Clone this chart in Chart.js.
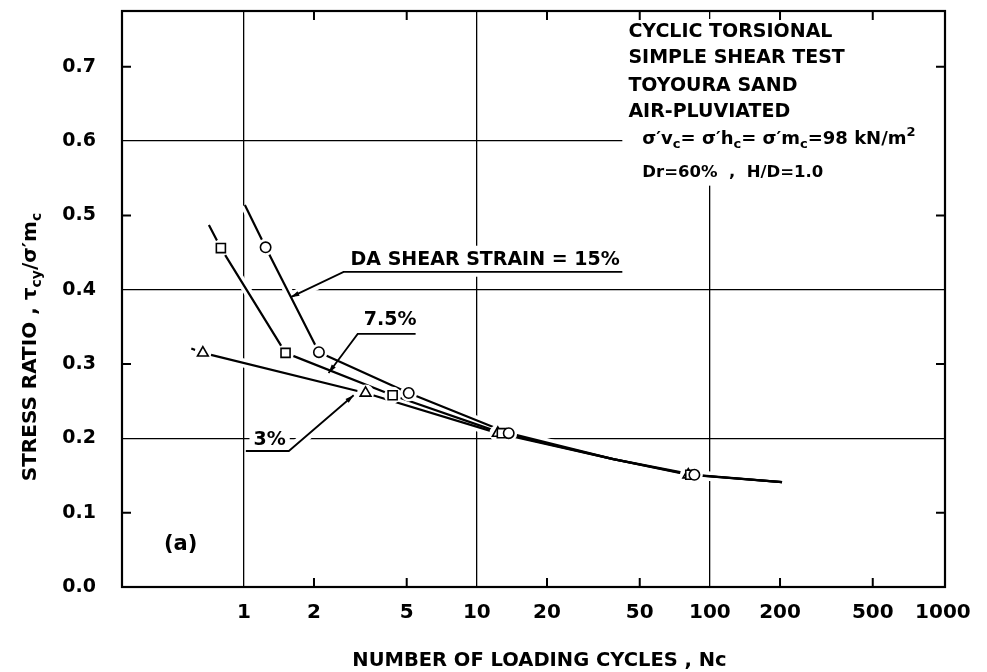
<!DOCTYPE html>
<html><head><meta charset="utf-8">
<script src="https://cdn.jsdelivr.net/npm/chart.js@4.4.1/dist/chart.umd.min.js"></script>
<style>html,body{margin:0;padding:0;background:#fff}canvas{display:block}</style>
</head><body>
<canvas id="c" width="987" height="672"></canvas>
<script>
// ---------- values ----------
const xTicks = [1, 2, 5, 10, 20, 50, 100, 200, 500, 1000];
const yTicks = [0, 0.1, 0.2, 0.3, 0.4, 0.5, 0.6, 0.7];
const xGridValues = [1, 10, 100];
const yGridValues = [0.2, 0.4, 0.6];
const xMinorTicks = [2, 5, 20, 50, 200, 500];
const yMinorTicks = [0.1, 0.3, 0.5, 0.7];

// measured points (Nc, stress ratio)
const nc15 = [1.24, 2.10, 5.10, 13.7, 85.8];
const sr15 = [0.457, 0.316, 0.261, 0.207, 0.151];
const nc75 = [0.797, 1.51, 4.35, 12.8, 82.4];
const sr75 = [0.456, 0.315, 0.258, 0.207, 0.151];
const nc3  = [0.667, 3.33, 12.3, 80.8];
const sr3  = [0.315, 0.261, 0.207, 0.151];

// drawn curves (traced)
const curve15X = [1.01, 1.24, 2.10, 5.10, 13.7, 38.5, 85.8, 204];
const curve15Y = [0.514, 0.457, 0.316, 0.261, 0.207, 0.172, 0.151, 0.141];
const curve75X = [0.708, 0.797, 1.51, 4.35, 12.8, 38.5, 82.4, 204];
const curve75Y = [0.487, 0.456, 0.315, 0.258, 0.207, 0.172, 0.151, 0.141];
const curve3X  = [0.595, 0.667, 3.33, 12.3, 38.5, 80.8, 204];
const curve3Y  = [0.321, 0.315, 0.261, 0.207, 0.172, 0.151, 0.141];

// annotation texts
const infoLines = ['CYCLIC TORSIONAL', 'SIMPLE SHEAR TEST', 'TOYOURA SAND', 'AIR-PLUVIATED'];
const curveLabels = ['DA SHEAR STRAIN = 15%', '7.5%', '3%', '(a)'];

// ---------- layout of annotations (data coordinates) ----------
const infoAnchor = {x: 44.7, ys: [0.747, 0.712, 0.674, 0.639]};
const formulaAnchor = {x: 51.3, ys: [0.602, 0.557]};
const infoMask = {x: 42.1, y: 0.540};
const labelAnchors = [[2.87, 0.440], [3.27, 0.359], [1.10, 0.198], [0.454, 0.0565]];
const leaders = [
  [[42.1, 0.424], [2.68, 0.424], [1.59, 0.390]],
  [[5.46, 0.3405], [3.08, 0.3405], [2.31, 0.288]],
  [[1.02, 0.183], [1.56, 0.183], [2.96, 0.258]]
];

const FONT = '"DejaVu Sans", "Liberation Sans", sans-serif';
const bold = s => `bold ${s}px ${FONT}`;

const formulaSegs = [
  {t: 'σ′v'}, {t: 'c', k: 'sub'}, {t: '= σ′h'}, {t: 'c', k: 'sub'},
  {t: '= σ′m'}, {t: 'c', k: 'sub'}, {t: '=98 kN/m'}, {t: '2', k: 'sup'}
];
const formula2Segs = [{t: 'Dr=60%  ,  H/D=1.0'}];
const yTitleSegs = [{t: 'STRESS RATIO , τ'}, {t: 'cy', k: 'sub'}, {t: '/σ′m'}, {t: 'c', k: 'sub'}];
const xTitle = 'NUMBER OF LOADING CYCLES , Nc';

function segFont(s, size) { return bold(s.k ? Math.round(size * 0.72) : size); }
function richWidth(ctx, segs, size) {
  let w = 0;
  for (const s of segs) { ctx.font = segFont(s, size); w += ctx.measureText(s.t).width; }
  return w;
}
function drawRich(ctx, segs, x, y, size) {
  ctx.textBaseline = 'middle';
  ctx.textAlign = 'left';
  for (const s of segs) {
    ctx.font = segFont(s, size);
    const dy = s.k === 'sub' ? size * 0.3 : s.k === 'sup' ? -size * 0.38 : 0;
    ctx.fillText(s.t, x, y + dy);
    x += ctx.measureText(s.t).width;
  }
}

const pts = (xs, ys) => xs.map((x, i) => ({x, y: ys[i]}));
const near = (arr, v) => arr.some(a => Math.abs(a - v) < 1e-6);

const marker = (d, style, r) => ({data: d, showLine: false, pointStyle: style, pointRadius: r,
  pointBackgroundColor: '#fff', pointBorderColor: '#000', pointBorderWidth: 1.6, order: 0});
const halo = (d) => ({data: d, showLine: false, pointStyle: 'circle', pointRadius: 8.5,
  pointBackgroundColor: '#fff', pointBorderColor: '#fff', pointBorderWidth: 0, order: 1});
const curve = (d) => ({data: d, showLine: true, pointRadius: 0, borderColor: '#000', borderWidth: 2.2,
  tension: 0, borderJoinStyle: 'round', order: 2});
const curveHalo = (d) => ({data: d, showLine: true, pointRadius: 0, borderColor: '#fff', borderWidth: 9,
  tension: 0, order: 3});

const annot = {
  id: 'annot',
  beforeDatasetsDraw(chart) {
    const {ctx, chartArea: a, scales: {x, y}} = chart;
    ctx.save();
    ctx.fillStyle = '#fff';
    const bx = x.getPixelForValue(infoMask.x), by = y.getPixelForValue(infoMask.y);
    ctx.fillRect(bx, a.top + 8, a.right - bx - 1, by - a.top - 8);
    const sizes = [19, 19, 19, 21];
    curveLabels.forEach((t, i) => {
      ctx.font = bold(sizes[i]);
      const w = ctx.measureText(t).width;
      const px = x.getPixelForValue(labelAnchors[i][0]), py = y.getPixelForValue(labelAnchors[i][1]);
      ctx.fillRect(px - 4, py - sizes[i] * 0.75, w + 8, sizes[i] * 1.5);
    });
    ctx.strokeStyle = '#fff'; ctx.lineWidth = 10;
    leaders.forEach(L => {
      ctx.beginPath();
      L.forEach((p, i) => {
        const px = x.getPixelForValue(p[0]), py = y.getPixelForValue(p[1]);
        i ? ctx.lineTo(px, py) : ctx.moveTo(px, py);
      });
      ctx.stroke();
    });
    ctx.restore();
  },
  afterDatasetsDraw(chart) {
    const {ctx, scales: {x, y}} = chart;
    ctx.save();
    ctx.fillStyle = '#000'; ctx.strokeStyle = '#000'; ctx.lineWidth = 1.8;
    leaders.forEach(L => {
      const P = L.map(p => [x.getPixelForValue(p[0]), y.getPixelForValue(p[1])]);
      ctx.beginPath();
      P.forEach((p, i) => i ? ctx.lineTo(p[0], p[1]) : ctx.moveTo(p[0], p[1]));
      ctx.stroke();
      const t = P[P.length - 1], q = P[P.length - 2];
      const ang = Math.atan2(t[1] - q[1], t[0] - q[0]);
      ctx.beginPath();
      ctx.moveTo(t[0], t[1]);
      ctx.lineTo(t[0] - 9 * Math.cos(ang - 0.28), t[1] - 9 * Math.sin(ang - 0.28));
      ctx.lineTo(t[0] - 9 * Math.cos(ang + 0.28), t[1] - 9 * Math.sin(ang + 0.28));
      ctx.closePath(); ctx.fill();
    });
    const sizes = [19, 19, 19, 21];
    ctx.textBaseline = 'middle'; ctx.textAlign = 'left';
    curveLabels.forEach((t, i) => {
      ctx.font = bold(sizes[i]);
      ctx.fillText(t, x.getPixelForValue(labelAnchors[i][0]), y.getPixelForValue(labelAnchors[i][1]));
    });
    ctx.font = bold(19);
    const ix = x.getPixelForValue(infoAnchor.x);
    infoLines.forEach((t, i) => ctx.fillText(t, ix, y.getPixelForValue(infoAnchor.ys[i])));
    const fx = x.getPixelForValue(formulaAnchor.x);
    drawRich(ctx, formulaSegs, fx, y.getPixelForValue(formulaAnchor.ys[0]), 18);
    drawRich(ctx, formula2Segs, fx, y.getPixelForValue(formulaAnchor.ys[1]), 16.5);
    ctx.restore();
  },
  afterDraw(chart) {
    const {ctx, chartArea: a, scales: {x, y}} = chart;
    ctx.save();
    ctx.strokeStyle = '#000';
    ctx.lineWidth = 2.2;
    ctx.strokeRect(a.left, a.top, a.right - a.left, a.bottom - a.top);
    ctx.lineWidth = 2;
    ctx.beginPath();
    yMinorTicks.forEach(v => {
      const py = y.getPixelForValue(v);
      ctx.moveTo(a.left, py); ctx.lineTo(a.left + 9, py);
      ctx.moveTo(a.right, py); ctx.lineTo(a.right - 9, py);
    });
    xMinorTicks.forEach(v => {
      const px = x.getPixelForValue(v);
      ctx.moveTo(px, a.bottom); ctx.lineTo(px, a.bottom - 9);
      ctx.moveTo(px, a.top); ctx.lineTo(px, a.top + 9);
    });
    ctx.stroke();
    // axis titles
    ctx.fillStyle = '#000';
    ctx.font = bold(19.5);
    ctx.textAlign = 'center'; ctx.textBaseline = 'middle';
    ctx.fillText(xTitle, (a.left + a.right) / 2 + 6, a.bottom + 74);
    ctx.translate(31, 347);
    ctx.rotate(-Math.PI / 2);
    const w = richWidth(ctx, yTitleSegs, 20);
    drawRich(ctx, yTitleSegs, -w / 2, 0, 20);
    ctx.restore();
  }
};

new Chart(document.getElementById('c'), {
  type: 'scatter',
  data: {
    datasets: [
      marker(pts(nc15, sr15), 'circle', 5.2),
      marker(pts(nc75, sr75), 'rect', 6.4),
      marker(pts(nc3, sr3), 'triangle', 6.2),
      halo(pts(nc15, sr15)), halo(pts(nc75, sr75)), halo(pts(nc3, sr3)),
      curve(pts(curve15X, curve15Y)), curve(pts(curve75X, curve75Y)), curve(pts(curve3X, curve3Y)),
      curveHalo(pts(curve15X, curve15Y)), curveHalo(pts(curve75X, curve75Y)), curveHalo(pts(curve3X, curve3Y))
    ]
  },
  options: {
    responsive: false, animation: false, devicePixelRatio: 1,
    layout: {padding: {left: 0, right: 42, top: 11, bottom: 0}},
    plugins: {legend: {display: false}, tooltip: {enabled: false}},
    scales: {
      x: {
        type: 'logarithmic', min: 0.303, max: 1021,
        afterBuildTicks: s => { s.ticks = xTicks.map(v => ({value: v})); },
        afterFit: s => { s.height = 85; },
        grid: {drawTicks: false, lineWidth: 1.3,
          color: c => (c.tick && near(xGridValues, c.tick.value)) ? '#000' : 'rgba(0,0,0,0)'},
        border: {display: false},
        ticks: {autoSkip: false, maxRotation: 0, minRotation: 0, padding: 14, color: '#000',
          font: {family: FONT, weight: 'bold', size: 20}, callback: v => String(v)}
      },
      y: {
        type: 'linear', min: 0, max: 0.775,
        afterBuildTicks: s => { s.ticks = yTicks.map(v => ({value: v})); },
        afterFit: s => { s.width = 122; s.paddingTop = 0; s.paddingBottom = 0; },
        grid: {drawTicks: false, lineWidth: 1.3,
          color: c => (c.tick && near(yGridValues, c.tick.value)) ? '#000' : 'rgba(0,0,0,0)'},
        border: {display: false},
        ticks: {padding: 26, color: '#000', font: {family: FONT, weight: 'bold', size: 19},
          callback: v => Number(v).toFixed(1)}
      }
    }
  },
  plugins: [annot]
});
</script>
</body></html>
